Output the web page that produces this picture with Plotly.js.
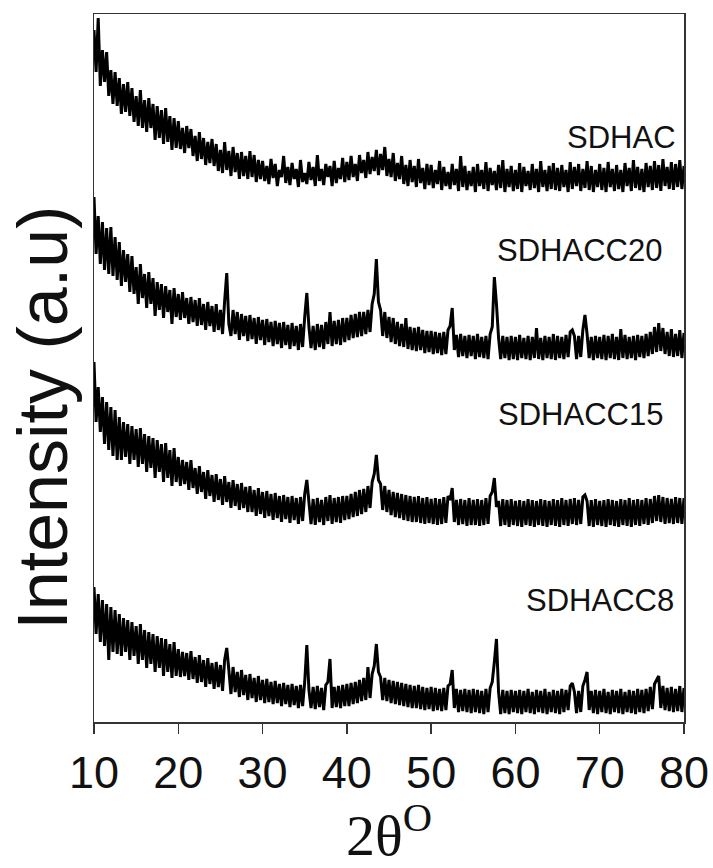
<!DOCTYPE html>
<html>
<head>
<meta charset="utf-8">
<script src="https://cdn.plot.ly/plotly-3.0.1.min.js"></script>
<style>html,body{margin:0;padding:0;background:#fff}#chart{width:713px;height:868px}</style>
</head>
<body>
<div id="chart"></div>
<script>
// 2-theta scan: start angle and step (degrees)
const twoThetaStart = 10;
const twoThetaStep = 0.25;

// Intensities (a.u., stacked/offset as in the figure), one value per 0.25 deg from 10 to 80
const SDHAC = [
692,650,704,636,672,640,670,626,652,618,650,616,644,608,638,610,640,606,634,600,
626,596,632,594,622,590,624,594,618,582,616,584,612,578,614,580,606,572,604,574,
601,573,594,569,596,574,593,566,586,561,590,563,584,557,580,559,583,556,578,551,
572,549,580,552,571,546,575,550,569,543,570,546,566,543,571,545,567,540,562,543,
561,541,556,538,563,544,558,536,552,545,566,539,555,537,559,543,553,535,562,540,
549,538,560,542,555,536,567,541,553,537,558,545,556,536,561,539,554,543,564,540,
560,542,566,545,558,541,567,549,562,544,570,548,565,551,572,547,568,552,575,546,
563,545,569,541,559,543,566,538,557,536,562,540,556,535,563,539,554,533,558,537,
557,534,552,538,561,532,555,536,550,533,558,537,553,531,566,535,556,532,551,536,
555,530,558,536,552,533,560,531,554,537,551,532,557,534,562,530,553,535,556,531,
552,533,559,530,555,536,551,532,558,534,553,530,561,535,552,531,556,533,559,532,
554,531,557,535,552,530,560,533,555,536,558,531,553,534,561,532,556,530,552,535,
558,532,554,530,560,535,553,531,557,533,552,530,559,536,554,531,562,534,555,532,
553,530,559,535,556,532,561,534,557,531,563,536,555,533,560,532,558,535,562,533,
556];

const SDHACC20 = [
525,468,506,458,500,452,494,448,495,446,485,442,480,436,472,440,468,430,466,428,
455,418,458,424,448,414,450,418,444,406,440,412,438,404,436,410,432,398,434,405,
428,402,430,404,424,398,425,400,422,396,424,397,418,392,420,396,416,390,418,392,
412,388,421,449,398,386,412,388,410,382,408,386,406,381,407,383,404,378,405,382,
402,377,403,380,400,376,401,378,399,374,400,377,397,373,399,376,396,372,398,375,
405,429,395,374,396,372,398,375,397,373,400,378,410,376,401,378,402,377,404,380,
404,382,407,384,408,385,410,386,410,388,412,390,418,428,463,420,412,386,410,384,
405,380,404,378,400,376,398,375,404,373,395,372,394,371,395,372,392,369,391,370,
391,368,390,369,389,367,390,368,392,396,414,372,387,365,388,366,386,364,387,366,
386,363,388,365,385,364,386,363,388,395,445,418,384,363,386,364,385,362,386,363,
385,362,387,364,384,363,386,362,385,364,394,363,384,362,386,364,385,363,388,362,
386,364,385,363,387,365,390,392,386,363,386,365,392,407,388,364,385,362,386,364,
385,363,387,362,386,364,388,363,385,362,393,364,387,363,385,364,386,362,387,365,
386,364,388,366,390,368,395,370,399,371,394,368,390,366,393,365,388,366,392,364,
389];

const SDHACC15 = [
360,300,335,290,325,278,320,272,315,266,312,262,305,262,300,265,298,258,296,262,
293,255,294,258,288,250,286,254,284,244,282,250,278,240,279,244,272,236,274,240,
265,236,262,238,260,232,262,234,254,228,256,230,250,223,252,226,247,220,248,222,
243,217,246,220,240,214,242,216,238,212,239,214,235,210,236,210,232,206,234,208,
230,204,231,206,228,202,229,204,226,200,227,203,225,199,226,202,224,198,225,201,
228,242,220,198,223,197,224,200,222,197,225,201,227,198,224,200,225,199,226,202,
226,203,228,205,230,206,232,208,233,210,236,214,240,248,267,242,238,212,236,210,
232,207,230,205,229,204,228,202,227,201,226,200,225,200,226,199,224,198,225,199,
223,198,224,197,223,198,225,199,226,222,234,200,222,197,223,198,222,196,224,197,
222,197,223,196,222,197,224,198,226,230,244,215,221,196,223,197,222,195,223,197,
221,196,222,195,221,197,223,196,222,195,221,197,223,196,222,195,221,197,223,196,
222,195,224,197,222,196,223,198,224,197,222,198,225,227,221,196,222,195,223,197,
221,196,222,195,223,197,222,196,221,195,223,197,222,196,224,195,222,197,223,196,
222,198,224,197,223,199,226,201,227,200,225,198,224,199,223,198,225,199,224,198,
224];

const SDHACC8 = [
135,88,128,80,122,76,118,62,115,70,112,68,108,66,104,70,102,62,100,66,
96,58,98,62,92,54,90,58,88,50,86,54,84,46,83,50,78,44,80,46,
73,45,70,46,69,42,71,43,65,39,67,40,62,35,64,38,59,33,60,35,
57,31,62,74,52,28,55,30,50,25,52,27,47,22,48,24,44,20,46,22,
42,19,43,20,40,18,41,19,38,16,39,18,37,15,38,17,36,14,37,16,
40,77,32,14,35,13,36,15,34,12,37,40,63,14,35,15,36,14,37,16,
38,16,39,18,40,19,42,21,44,22,55,24,48,56,78,50,45,22,44,21,
42,19,41,18,40,17,39,16,38,15,37,14,36,14,37,13,35,12,34,13,
35,11,34,12,33,11,34,12,36,38,52,14,33,10,32,11,33,10,32,9,
33,10,32,9,31,8,33,10,34,40,60,83,30,8,32,9,31,8,32,10,
31,9,32,8,31,10,33,9,30,8,32,10,31,9,33,8,30,10,32,9,
31,8,33,10,32,12,36,39,30,9,31,10,36,42,50,12,31,9,32,8,
31,10,33,9,30,8,32,10,31,9,33,8,30,10,32,9,31,8,33,10,
32,9,33,11,35,13,38,42,46,14,36,12,34,11,35,10,33,11,36,10,
34];

const seriesNames = ["SDHAC", "SDHACC20", "SDHACC15", "SDHACC8"];
const seriesData = [SDHAC, SDHACC20, SDHACC15, SDHACC8];
const xTickVals = [10, 20, 30, 40, 50, 60, 70, 80];
const xTickText = ["10", "20", "30", "40", "50", "60", "70", "80"];

const twoTheta = SDHAC.map((_, i) => twoThetaStart + i * twoThetaStep);

const traces = seriesData.map((ys, k) => ({
  x: twoTheta,
  y: ys,
  type: "scatter",
  mode: "lines",
  name: seriesNames[k],
  line: {color: "#000000", width: 3, simplify: false},
  hoverinfo: "skip"
}));

// label placement (x in degrees, y in a.u.)
const labelPos = [[79.3, 585], [77.6, 472], [77.8, 308], [79.0, 122]];
const annotations = seriesNames.map((n, k) => ({
  x: labelPos[k][0], y: labelPos[k][1], xref: "x", yref: "y",
  text: n, showarrow: false, xanchor: "right", yanchor: "middle",
  font: {family: "Liberation Sans, Arial, sans-serif", size: 31, color: "#111111"}
}));
// y-axis title drawn as a rotated annotation (positioned as in the reference)
annotations.push({
  x: -0.088, y: 0.43, xref: "paper", yref: "paper",
  text: "Intensity (a.u)", showarrow: false, textangle: -90,
  xanchor: "center", yanchor: "middle",
  font: {family: "Liberation Sans, Arial, sans-serif", size: 70, color: "#111111"}
});

const layout = {
  width: 713, height: 868,
  margin: {l: 94, r: 29, t: 14, b: 146, pad: 0},
  paper_bgcolor: "#ffffff", plot_bgcolor: "#ffffff",
  showlegend: false,
  font: {family: "Liberation Sans, Arial, sans-serif", color: "#111111"},
  xaxis: {
    range: [10, 80], tickmode: "array", tickvals: xTickVals, ticktext: xTickText,
    ticks: "outside", ticklen: 10, tickwidth: 1.5, tickcolor: "#333333",
    showline: true, linecolor: "#333333", linewidth: 1.5, mirror: true,
    showgrid: false, zeroline: false,
    tickfont: {family: "Liberation Sans, Arial, sans-serif", size: 45, color: "#111111"},
    title: {text: "2θ<sup>O</sup>", font: {family: "Liberation Serif, Times New Roman, serif", size: 58, color: "#111111"}, standoff: 16},
    automargin: false
  },
  yaxis: {
    range: [0, 708], showticklabels: false, ticks: "",
    showline: true, linecolor: "#333333", linewidth: 1.5, mirror: true,
    showgrid: false, zeroline: false,
    automargin: false
  },
  annotations: annotations
};

Plotly.newPlot("chart", traces, layout, {staticPlot: true, displayModeBar: false});
</script>
</body>
</html>
